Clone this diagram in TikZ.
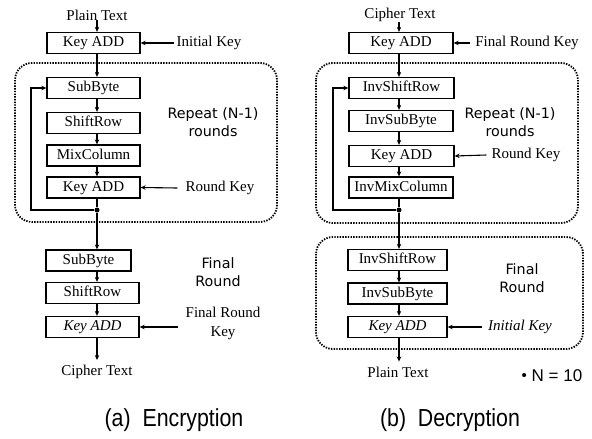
\documentclass[tikz,border=0pt]{standalone}
\usepackage{fontspec}
\setmainfont{Liberation Serif}
\newfontfamily\lblsans{DejaVu Sans}
\newfontfamily\capsans{Liberation Sans}
\usetikzlibrary{arrows.meta}

\newcommand{\serifsz}{\fontsize{15}{17}\selectfont}
\newcommand{\sanssz}{\lblsans\fontsize{14.3}{18}\selectfont}

\tikzset{
  blk/.style={draw, line width=1.3pt, minimum height=21pt, inner sep=0pt,
              text height=10.5pt, text depth=3pt, font=\serifsz},
  lbl/.style={font=\serifsz, inner sep=0pt, align=center},
  sanslbl/.style={font=\sanssz, inner sep=0pt, align=center},
  flow/.style={-{Stealth[length=5pt,width=4.5pt]}, line width=1.1pt},
  wire/.style={line width=1.1pt},
  region/.style={draw, rounded corners=17pt, line width=1.8pt,
                 dash pattern=on 1.4pt off 1.3pt},
  junction/.style={circle, fill, inner sep=0pt, minimum size=5pt},
  caption/.style={font=\capsans\fontsize{22}{26}\selectfont, inner sep=0pt}
}

\begin{document}
\begin{tikzpicture}[x=1pt,y=-1pt]
\useasboundingbox (0,0) rectangle (592,439);

% ---------------- (a) Encryption ----------------
\coordinate (es) at (97,0);
\draw[region] (15,63) rectangle (277,222);

\node[lbl] (ept) at (97,15) {Plain Text};
\node[blk, minimum width=93pt] (ek0) at (93.5,43) {Key ADD};
\node[lbl] (eik) at (209,43) {Initial Key};

\node[blk, minimum width=93pt] (esb) at (93.5,88) {SubByte};
\node[blk, minimum width=93pt] (esr) at (93.5,123) {ShiftRow};
\node[blk, minimum width=93pt] (emc) at (93.5,155.5) {MixColumn};
\node[blk, minimum width=93pt] (ek1) at (93.5,187.5) {Key ADD};
\node[lbl] (erk) at (220,188) {Round Key};
\node[sanslbl] (erep) at (213,122) {Repeat (N-1)\\rounds};
\node[junction] (edot) at (97,210) {};
\coordinate (efb) at (31,210);

\node[blk, minimum width=85pt] (efsb) at (88.5,260.5) {SubByte};
\node[blk, minimum width=93pt] (efsr) at (92.5,293) {ShiftRow};
\node[blk, minimum width=93pt] (efk) at (92.5,327) {\itshape Key ADD};
\node[sanslbl] (efin) at (218,272.5) {Final\\Round};
\node[lbl, font=\fontsize{15}{19}\selectfont] (efrk) at (223,323.5) {Final Round\\Key};
\coordinate (efkin) at (178,327);
\node[lbl] (ect) at (97,372) {Cipher Text};
\node[caption] (capa) at (174,420) {\scalebox{0.97}[1.12]{(a)\ \ Encryption}};

\draw[flow] (ept.south -| es) -- (ek0.north -| es);
\draw[flow] ([xshift=-3pt]eik.west) -- (ek0.east);
\draw[flow] (ek0.south -| es) -- (esb.north -| es);
\draw[flow] (esb.south -| es) -- (esr.north -| es);
\draw[flow] (esr.south -| es) -- (emc.north -| es);
\draw[flow] (emc.south -| es) -- (ek1.north -| es);
\draw[flow] ([xshift=-8pt]erk.west) -- (ek1.east);
\draw[wire] (ek1.south -| es) -- (edot);
\draw[flow] (edot) -- (efb) |- (esb.west);
\draw[flow] (edot) -- (efsb.north -| es);
\draw[flow] (efsb.south -| es) -- (efsr.north -| es);
\draw[flow] (efsr.south -| es) -- (efk.north -| es);
\draw[flow, line width=1.5pt] (efkin) -- (efk.east);
\draw[flow] (efk.south -| es) -- ([yshift=5pt]ect.north -| es);

% ---------------- (b) Decryption ----------------
\coordinate (ds) at (399,0);
\draw[region] (316,63) rectangle (578,223);
\draw[region] (316,237) rectangle (583,349);

\node[lbl] (dct) at (400,15) {Cipher Text};
\node[blk, minimum width=104pt] (dk0) at (401,43) {Key ADD};
\node[lbl] (dfrk) at (527,43) {Final Round Key};

\node[blk, minimum width=105pt] (dsr) at (401.5,88) {InvShiftRow};
\node[blk, minimum width=104pt] (dsb) at (401,121) {InvSubByte};
\node[blk, minimum width=105pt] (dk1) at (401.5,156) {Key ADD};
\node[blk, minimum width=104pt] (dmc) at (401,187.5) {InvMixColumn};
\node[lbl] (drk) at (526,155) {Round Key};
\node[sanslbl] (drep) at (510,122) {Repeat (N-1)\\rounds};
\node[junction] (ddot) at (399,210) {};
\coordinate (dfb) at (333,210);

\node[blk, minimum width=99pt] (dfsr) at (397.5,260) {InvShiftRow};
\node[blk, minimum width=99pt] (dfsb) at (397.5,293.5) {InvSubByte};
\node[blk, minimum width=99pt] (dfk) at (397.5,327) {\itshape Key ADD};
\node[sanslbl] (dfin) at (522,278.5) {Final\\Round};
\node[lbl] (dik) at (520,327) {\itshape Initial Key};
\node[lbl] (dpt) at (398,372) {Plain Text};
\node[font=\capsans\fontsize{17}{20}\selectfont, inner sep=0pt] (dnote) at (552,376)
  {\raisebox{1.5pt}{\fontsize{15}{15}\selectfont •}\ N = 10};
\node[caption] (capb) at (450,420) {\scalebox{0.97}[1.12]{(b)\ \ Decryption}};

\draw[flow] (dct.south -| ds) -- (dk0.north -| ds);
\draw[flow] ([xshift=-5pt]dfrk.west) -- (dk0.east);
\draw[flow] (dk0.south -| ds) -- (dsr.north -| ds);
\draw[flow] (dsr.south -| ds) -- (dsb.north -| ds);
\draw[flow] (dsb.south -| ds) -- (dk1.north -| ds);
\draw[flow] (dk1.south -| ds) -- (dmc.north -| ds);
\draw[flow] ([xshift=-5pt]drk.west) -- (dk1.east);
\draw[wire] (dmc.south -| ds) -- (ddot);
\draw[flow] (ddot) -- (dfb) |- (dsr.west);
\draw[flow] (ddot) -- (dfsr.north -| ds);
\draw[flow] (dfsr.south -| ds) -- (dfsb.north -| ds);
\draw[flow] (dfsb.south -| ds) -- (dfk.north -| ds);
\draw[flow] ([xshift=-6pt]dik.west) -- (dfk.east);
\draw[flow] (dfk.south -| ds) -- ([yshift=5pt]dpt.north -| ds);
\end{tikzpicture}
\end{document}
